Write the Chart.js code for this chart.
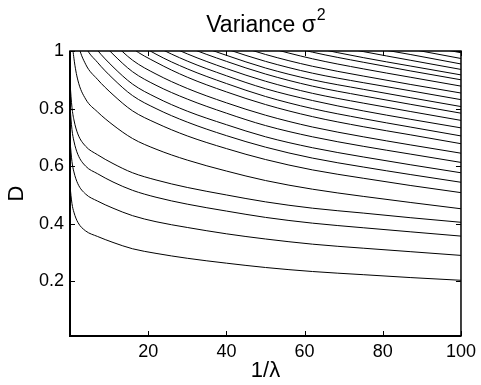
<!DOCTYPE html>
<html>
<head>
<meta charset="utf-8">
<script src="https://cdn.jsdelivr.net/npm/chart.js@4/dist/chart.umd.min.js"></script>
<style>
  html, body { margin: 0; padding: 0; background: #fff; }
  #wrap { width: 481px; height: 385px; position: relative; }
</style>
</head>
<body>
<div id="wrap"><canvas id="chart"></canvas></div>
<script>
// sample positions along 1/lambda
const xValues = [0.01, 0.5, 1, 2, 4, 7, 11, 16, 22, 30, 40, 50, 62, 75, 87, 100];

// D along each contour line (lowest line first).
// values above 1 are outside the axes and get clipped
const curve01 = [0.529, 0.470, 0.440, 0.405, 0.375, 0.356, 0.335, 0.313, 0.297, 0.280, 0.263, 0.248, 0.234, 0.223, 0.213, 0.2035];
const curve02 = [0.686, 0.616, 0.580, 0.539, 0.503, 0.479, 0.454, 0.428, 0.407, 0.387, 0.365, 0.347, 0.329, 0.315, 0.303, 0.290];
const curve03 = [0.805, 0.727, 0.687, 0.641, 0.600, 0.574, 0.545, 0.516, 0.492, 0.468, 0.444, 0.422, 0.402, 0.386, 0.372, 0.357];
const curve04 = [0.887, 0.804, 0.761, 0.712, 0.669, 0.640, 0.609, 0.577, 0.552, 0.526, 0.500, 0.476, 0.454, 0.437, 0.421, 0.405];
const curve05 = [1.175, 1.043, 0.975, 0.899, 0.833, 0.789, 0.743, 0.696, 0.659, 0.621, 0.583, 0.550, 0.520, 0.495, 0.474, 0.452];
const curve06 = [1.359, 1.202, 1.122, 1.031, 0.954, 0.902, 0.848, 0.792, 0.750, 0.705, 0.661, 0.623, 0.587, 0.558, 0.533, 0.508];
const curve07 = [1.442, 1.278, 1.193, 1.097, 1.015, 0.961, 0.904, 0.845, 0.800, 0.753, 0.706, 0.666, 0.628, 0.597, 0.571, 0.544];
const curve08 = [1.487, 1.322, 1.237, 1.141, 1.058, 1.003, 0.945, 0.885, 0.839, 0.791, 0.744, 0.702, 0.664, 0.632, 0.605, 0.577];
const curve09 = [1.534, 1.369, 1.284, 1.186, 1.103, 1.047, 0.989, 0.928, 0.881, 0.833, 0.784, 0.741, 0.702, 0.669, 0.642, 0.613];
const curve10 = [1.584, 1.416, 1.330, 1.231, 1.146, 1.089, 1.030, 0.968, 0.920, 0.870, 0.820, 0.777, 0.736, 0.702, 0.674, 0.645];
const curve11 = [1.634, 1.465, 1.377, 1.278, 1.191, 1.133, 1.073, 1.009, 0.961, 0.909, 0.858, 0.814, 0.772, 0.737, 0.709, 0.678];
const curve12 = [1.660, 1.492, 1.405, 1.306, 1.220, 1.162, 1.102, 1.039, 0.989, 0.938, 0.887, 0.842, 0.800, 0.765, 0.736, 0.705];
const curve13 = [1.675, 1.511, 1.426, 1.328, 1.244, 1.187, 1.126, 1.064, 1.016, 0.965, 0.914, 0.869, 0.828, 0.792, 0.763, 0.733];
const curve14 = [1.685, 1.526, 1.443, 1.347, 1.265, 1.209, 1.149, 1.088, 1.040, 0.990, 0.939, 0.895, 0.853, 0.819, 0.790, 0.759];
const curve15 = [1.693, 1.538, 1.458, 1.364, 1.284, 1.229, 1.171, 1.110, 1.063, 1.014, 0.964, 0.920, 0.878, 0.844, 0.815, 0.784];
const curve16 = [1.694, 1.545, 1.467, 1.376, 1.297, 1.244, 1.188, 1.129, 1.082, 1.034, 0.985, 0.941, 0.900, 0.867, 0.838, 0.807];
const curve17 = [1.702, 1.557, 1.480, 1.392, 1.315, 1.262, 1.207, 1.149, 1.103, 1.055, 1.007, 0.964, 0.923, 0.890, 0.862, 0.831];
const curve18 = [1.732, 1.586, 1.508, 1.420, 1.343, 1.290, 1.234, 1.175, 1.129, 1.081, 1.031, 0.988, 0.947, 0.913, 0.884, 0.854];
const curve19 = [1.765, 1.618, 1.540, 1.451, 1.373, 1.319, 1.264, 1.203, 1.157, 1.108, 1.059, 1.015, 0.973, 0.938, 0.909, 0.878];
const curve20 = [1.791, 1.645, 1.567, 1.477, 1.399, 1.346, 1.288, 1.229, 1.182, 1.133, 1.082, 1.038, 0.996, 0.961, 0.931, 0.900];
const curve21 = [1.806, 1.660, 1.583, 1.493, 1.415, 1.362, 1.305, 1.245, 1.198, 1.149, 1.099, 1.054, 1.013, 0.977, 0.948, 0.917];
const curve22 = [1.828, 1.682, 1.605, 1.516, 1.438, 1.384, 1.327, 1.267, 1.220, 1.171, 1.120, 1.076, 1.034, 0.998, 0.968, 0.936];
const curve23 = [1.848, 1.702, 1.626, 1.536, 1.458, 1.404, 1.347, 1.288, 1.240, 1.191, 1.140, 1.095, 1.053, 1.017, 0.988, 0.955];
const curve24 = [1.883, 1.735, 1.657, 1.567, 1.486, 1.432, 1.373, 1.313, 1.265, 1.214, 1.162, 1.116, 1.074, 1.038, 1.007, 0.974];
const curve25 = [1.923, 1.772, 1.691, 1.598, 1.516, 1.461, 1.402, 1.339, 1.290, 1.239, 1.186, 1.140, 1.095, 1.059, 1.027, 0.994];

const curves = [curve01, curve02, curve03, curve04, curve05, curve06, curve07, curve08,
  curve09, curve10, curve11, curve12, curve13, curve14, curve15, curve16, curve17,
  curve18, curve19, curve20, curve21, curve22, curve23, curve24, curve25];

const xTicks = [20, 40, 60, 80, 100];
const yTicks = [0.2, 0.4, 0.6, 0.8, 1];

const FONT = '"Liberation Sans", Arial, Helvetica, sans-serif';

// matlab style box, ticks pointing inwards, title with superscript
const boxPlugin = {
  id: 'matlabBox',
  afterDatasetsDraw(chart) {
    const { ctx, chartArea: a, scales } = chart;
    const len = 5;
    ctx.save();
    ctx.strokeStyle = '#000';
    ctx.lineWidth = 1;
    ctx.beginPath();
    xTicks.forEach(v => {
      const px = Math.round(scales.x.getPixelForValue(v)) + 0.5;
      ctx.moveTo(px, a.bottom); ctx.lineTo(px, a.bottom - len);
      ctx.moveTo(px, a.top); ctx.lineTo(px, a.top + len);
    });
    yTicks.forEach(v => {
      const py = Math.round(scales.y.getPixelForValue(v)) + 0.5;
      ctx.moveTo(a.left, py); ctx.lineTo(a.left + len, py);
      ctx.moveTo(a.right, py); ctx.lineTo(a.right - len, py);
    });
    ctx.stroke();
    ctx.lineWidth = 1.5;
    ctx.strokeRect(a.left, a.top, a.right - a.left, a.bottom - a.top);
    ctx.lineWidth = 2;
    ctx.beginPath();
    ctx.moveTo(a.left, a.top); ctx.lineTo(a.left, a.bottom); ctx.lineTo(a.right, a.bottom);
    ctx.stroke();
    ctx.restore();
  },
  afterDraw(chart) {
    const { ctx, chartArea: a } = chart;
    ctx.save();
    ctx.fillStyle = '#000';
    ctx.textBaseline = 'alphabetic';
    const main = 'Variance \u03c3';
    ctx.font = '23px ' + FONT;
    const w1 = ctx.measureText(main).width;
    ctx.font = '16px ' + FONT;
    const w2 = ctx.measureText('2').width;
    const x0 = (a.left + a.right) / 2 - (w1 + w2) / 2;
    ctx.font = '23px ' + FONT;
    ctx.fillText(main, x0, 32);
    ctx.font = '16px ' + FONT;
    ctx.fillText('2', x0 + w1 + 1, 20);
    ctx.restore();
  }
};

const datasets = curves.map((c, i) => ({
  label: 'contour ' + (i + 1),
  data: xValues.map((x, j) => ({ x: x, y: c[j] })),
  borderColor: '#000',
  borderWidth: 1,
  pointRadius: 0,
  fill: false,
  cubicInterpolationMode: 'monotone'
}));

new Chart(document.getElementById('chart'), {
  type: 'line',
  data: { datasets },
  plugins: [boxPlugin],
  options: {
    responsive: true,
    maintainAspectRatio: false,
    animation: false,
    events: [],
    layout: { padding: { top: 51, right: 14, bottom: 0, left: 0 } },
    plugins: {
      legend: { display: false },
      tooltip: { enabled: false },
      title: { display: false }
    },
    scales: {
      x: {
        type: 'linear',
        min: 0,
        max: 100,
        afterBuildTicks: axis => { axis.ticks = xTicks.map(v => ({ value: v })); },
        afterFit: s => { s.height = 49; },
        grid: { display: false, drawTicks: false },
        border: { display: false },
        ticks: { color: '#000', font: { size: 18, family: FONT }, padding: 5, maxRotation: 0, callback: v => String(v) },
        title: { display: true, text: '1/\u03bb', color: '#000', font: { size: 22, family: FONT }, padding: { top: 0, bottom: 1 } }
      },
      y: {
        type: 'linear',
        min: 0.01,
        max: 1,
        afterBuildTicks: axis => { axis.ticks = yTicks.map(v => ({ value: v })); },
        afterFit: s => { s.width = 70; },
        grid: { display: false, drawTicks: false },
        border: { display: false },
        ticks: { color: '#000', font: { size: 18, family: FONT }, padding: 6, callback: v => String(v) },
        title: { display: true, text: 'D', color: '#000', font: { size: 22, family: FONT }, padding: { top: 4, bottom: 0 } }
      }
    }
  }
});
</script>
</body>
</html>
